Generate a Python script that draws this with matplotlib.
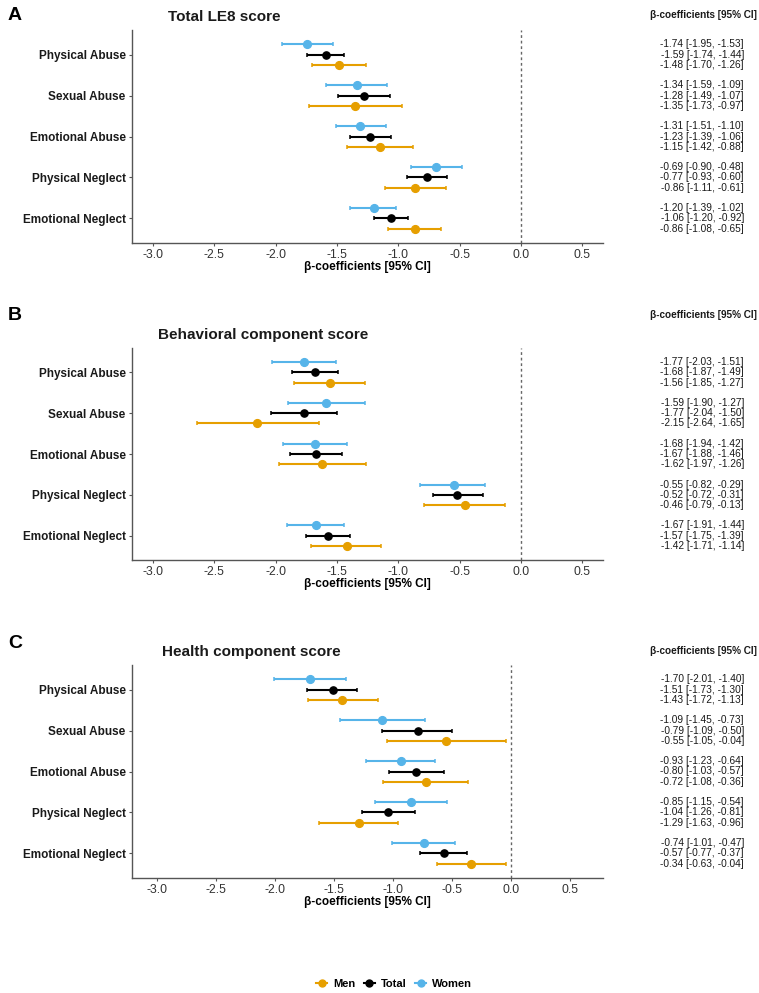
import matplotlib
matplotlib.use("Agg")
import matplotlib.pyplot as plt
from matplotlib.lines import Line2D

plt.rcParams['font.family'] = ['Liberation Sans', 'DejaVu Sans']

categories = ["Physical Abuse", "Sexual Abuse", "Emotional Abuse", "Physical Neglect", "Emotional Neglect"]
groups = ["Women", "Total", "Men"]
colors = {"Men": "#E69F00", "Total": "#000000", "Women": "#56B4E9"}

# Panel A: Total LE8 score  (est, lo, hi) per category, per group
A_women = [(-1.74, -1.95, -1.53), (-1.34, -1.59, -1.09), (-1.31, -1.51, -1.10), (-0.69, -0.90, -0.48), (-1.20, -1.39, -1.02)]
A_total = [(-1.59, -1.74, -1.44), (-1.28, -1.49, -1.07), (-1.23, -1.39, -1.06), (-0.77, -0.93, -0.60), (-1.06, -1.20, -0.92)]
A_men   = [(-1.48, -1.70, -1.26), (-1.35, -1.73, -0.97), (-1.15, -1.42, -0.88), (-0.86, -1.11, -0.61), (-0.86, -1.08, -0.65)]

# Panel B: Behavioral component score
B_women = [(-1.77, -2.03, -1.51), (-1.59, -1.90, -1.27), (-1.68, -1.94, -1.42), (-0.55, -0.82, -0.29), (-1.67, -1.91, -1.44)]
B_total = [(-1.68, -1.87, -1.49), (-1.77, -2.04, -1.50), (-1.67, -1.88, -1.46), (-0.52, -0.72, -0.31), (-1.57, -1.75, -1.39)]
B_men   = [(-1.56, -1.85, -1.27), (-2.15, -2.64, -1.65), (-1.62, -1.97, -1.26), (-0.46, -0.79, -0.13), (-1.42, -1.71, -1.14)]

# Panel C: Health component score
C_women = [(-1.70, -2.01, -1.40), (-1.09, -1.45, -0.73), (-0.93, -1.23, -0.64), (-0.85, -1.15, -0.54), (-0.74, -1.01, -0.47)]
C_total = [(-1.51, -1.73, -1.30), (-0.79, -1.09, -0.50), (-0.80, -1.03, -0.57), (-1.04, -1.26, -0.81), (-0.57, -0.77, -0.37)]
C_men   = [(-1.43, -1.72, -1.13), (-0.55, -1.05, -0.04), (-0.72, -1.08, -0.36), (-1.29, -1.63, -0.96), (-0.34, -0.63, -0.04)]

xticks = [-3.0, -2.5, -2.0, -1.5, -1.0, -0.5, 0.0, 0.5]
xtick_labels = ["-3.0", "-2.5", "-2.0", "-1.5", "-1.0", "-0.5", "0.0", "0.5"]

panels = [
    dict(letter="A", title="Total LE8 score", data={"Women": A_women, "Total": A_total, "Men": A_men},
         top=30, bottom=243, xlim=(-3.17, 0.668), title_x=168, title_y=17, letter_y=15, head_y=15),
    dict(letter="B", title="Behavioral component score", data={"Women": B_women, "Total": B_total, "Men": B_men},
         top=348, bottom=560, xlim=(-3.17, 0.668), title_x=158, title_y=335, letter_y=316, head_y=315),
    dict(letter="C", title="Health component score", data={"Women": C_women, "Total": C_total, "Men": C_men},
         top=665, bottom=878, xlim=(-3.21, 0.78), title_x=162, title_y=652, letter_y=643, head_y=651),
]

W, H = 759, 993
fig = plt.figure(figsize=(W / 100, H / 100), dpi=100)

ax_left, ax_right = 132, 603
offsets = {"Women": -0.25, "Total": 0.0, "Men": 0.25}
text_x_px = 744
head_x_px = 703

for p in panels:
    ax = fig.add_axes([ax_left / W, 1 - p["bottom"] / H, (ax_right - ax_left) / W, (p["bottom"] - p["top"]) / H])
    for g in groups:
        vals = p["data"][g]
        ys = [i + offsets[g] for i in range(len(categories))]
        est = [v[0] for v in vals]
        lo = [v[0] - v[1] for v in vals]
        hi = [v[2] - v[0] for v in vals]
        ms = 5.6 if g != "Total" else 5.2
        ax.errorbar(est, ys, xerr=[lo, hi], fmt='o', color=colors[g], ms=ms, elinewidth=1.5,
                    capsize=1.3, capthick=1.1, zorder=3)
        for y, v in zip(ys, vals):
            ax.text((text_x_px - ax_left) / (ax_right - ax_left), y,
                    f"{v[0]:.2f} [{v[1]:.2f}, {v[2]:.2f}]",
                    transform=ax.get_yaxis_transform(), ha='right', va='center',
                    fontsize=7.3, color='#1a1a1a', clip_on=False)
    ax.axvline(0, color='#666666', linestyle=(0, (2, 2)), linewidth=1.0, zorder=1)
    ax.set_xlim(*p["xlim"])
    ax.set_ylim(len(categories) - 1 + 0.6, -0.6)
    ax.set_yticks(range(len(categories)))
    ax.set_yticklabels(categories, fontsize=8.5, fontweight='bold', color='#1a1a1a')
    ax.set_xticks(xticks)
    ax.set_xticklabels(xtick_labels, fontsize=8.8, color='#333333')
    ax.set_xlabel("β-coefficients [95% CI]", fontsize=8.5, fontweight='bold', labelpad=0)
    for s in ["top", "right"]:
        ax.spines[s].set_visible(False)
    for s in ["left", "bottom"]:
        ax.spines[s].set_color('#555555')
        ax.spines[s].set_linewidth(1.0)
    ax.tick_params(axis='both', length=2.5, width=0.8, color='#555555', pad=2)
    fig.text(p["title_x"] / W, 1 - p["title_y"] / H, p["title"], fontsize=11, fontweight='bold',
             ha='left', va='center', color='#1a1a1a')
    fig.text(8 / W, 1 - p["letter_y"] / H, p["letter"], fontsize=14, fontweight='bold',
             ha='left', va='center', color='black')
    fig.text(head_x_px / W, 1 - p["head_y"] / H, "β-coefficients [95% CI]", fontsize=7.2,
             fontweight='bold', ha='center', va='center', color='#1a1a1a')

legend_order = ["Men", "Total", "Women"]
handles = [Line2D([0], [0], color=colors[g], marker='o', ms=5, lw=1.5, label=g) for g in legend_order]
leg = fig.legend(handles=handles, loc='center', bbox_to_anchor=(394 / W, 1 - 984 / H), ncol=3,
                 frameon=False, handlelength=1.0, handletextpad=0.5, columnspacing=0.8,
                 prop={'weight': 'bold', 'size': 8})

fig.savefig("out.png", dpi=100)
